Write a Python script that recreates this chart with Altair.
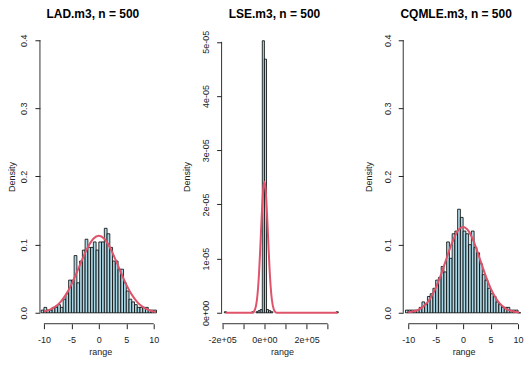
import altair as alt
import pandas as pd

FONT = "Liberation Sans"
BAR_FILL = "#ADD8E6"
CURVE_COLOR = "#DF536B"
W, H = 121, 295

# ---------------- LAD.m3 ----------------
lad_title = "LAD.m3, n = 500"
lad_bin_start = [-10.5 + 0.5 * i for i in range(42)]
lad_density = [0.004, 0.008, 0.004, 0.004, 0.008, 0.008, 0.012, 0.008, 0.02, 0.028,
               0.048, 0.048, 0.084, 0.044, 0.076, 0.092, 0.108, 0.096, 0.096, 0.104,
               0.092, 0.104, 0.104, 0.124, 0.116, 0.096, 0.076, 0.076, 0.064, 0.064,
               0.044, 0.032, 0.02, 0.016, 0.012, 0.008, 0.008, 0.008, 0.008, 0.004,
               0.004, 0.004]
lad_curve_x = [-10, -9, -8, -7, -6, -5, -4, -3, -2, -1, 0, 1, 2, 3, 4, 5, 6, 7, 8, 9, 10, 10.4]
lad_curve_y = [0.0020, 0.0044, 0.0087, 0.0158, 0.0267, 0.0414, 0.0595, 0.0787, 0.0962, 0.1086,
               0.113, 0.1086, 0.0962, 0.0787, 0.0595, 0.0414, 0.0267, 0.0158, 0.0087, 0.0044,
               0.0020, 0.0014]
lad_xticks = [-10, -5, 0, 5, 10]
lad_yticks = [0, 0.1, 0.2, 0.3, 0.4]

# ---------------- LSE.m3 ----------------
lse_title = "LSE.m3, n = 500"
lse_bin_start = [-190000, -60000, -40000, -30000, -20000, -10000, 0, 10000, 20000, 30000, 340000]
lse_density = [2e-7, 2e-7, 2e-7, 4e-7, 6e-7, 5.02e-5, 4.68e-5, 6e-7, 4e-7, 2e-7, 2e-7]
lse_curve_x = [-183000, -60000, -50000, -40000, -35000, -30000, -25000, -20000, -15000, -10000,
               -5000, 0, 5000, 10000, 15000, 20000, 25000, 30000, 35000, 40000, 50000, 60000, 345000]
lse_curve_y = [0, 0, 2.4e-7, 1.28e-6, 2.55e-6, 4.63e-6, 7.68e-6, 1.16e-5, 1.60e-5, 2.01e-5,
               2.31e-5, 2.42e-5, 2.31e-5, 2.01e-5, 1.60e-5, 1.16e-5, 7.68e-6, 4.63e-6, 2.55e-6,
               1.28e-6, 2.4e-7, 0, 0]
lse_xticks = [-200000, -100000, 0, 100000, 200000, 300000]
lse_xlabels = ["-2e+05", "", "0e+00", "", "2e+05", ""]
lse_yticks = [0, 1e-5, 2e-5, 3e-5, 4e-5, 5e-5]
lse_ylabels = ["0e+00", "1e-05", "2e-05", "3e-05", "4e-05", "5e-05"]

# ---------------- CQMLE.m3 ----------------
cq_title = "CQMLE.m3, n = 500"
cq_bin_start = [-10.5 + 0.5 * i for i in range(42)]
cq_density = [0.004, 0.004, 0.004, 0.004, 0.004, 0.008, 0.016, 0.012, 0.024, 0.028,
              0.036, 0.048, 0.052, 0.068, 0.06, 0.104, 0.08, 0.116, 0.12, 0.152,
              0.14, 0.12, 0.116, 0.1, 0.12, 0.096, 0.088, 0.072, 0.056, 0.048,
              0.036, 0.028, 0.024, 0.016, 0.012, 0.008, 0.008, 0.008, 0.004, 0.004,
              0.004, 0.0]
cq_curve_x = [-10, -9, -8, -7, -6, -5, -4, -3, -2, -1, 0, 1, 2, 3, 4, 5, 6, 7, 8, 9, 10, 10.2]
cq_curve_y = [0.0009, 0.0022, 0.0052, 0.011, 0.021, 0.0363, 0.0568, 0.0805, 0.1033, 0.1199,
              0.126, 0.1199, 0.1033, 0.0805, 0.0568, 0.0363, 0.021, 0.011, 0.0052, 0.0022,
              0.0009, 0.0007]
cq_xticks = [-10, -5, 0, 5, 10]
cq_yticks = [0, 0.1, 0.2, 0.3, 0.4]


def panel(title, bin_start, bin_w, density, cx, cy, xdomain, ydomain, xticks, yticks,
          xlabel_expr, ylabel_expr, ytitle_x):
    xaxis = alt.Axis(values=xticks, labelExpr=xlabel_expr, title="range", domain=False,
                     tickSize=5, tickColor="#222", tickWidth=1, labelPadding=14,
                     labelBaseline="alphabetic", labelFont=FONT, labelFontSize=9,
                     labelColor="#222", labelFlush=False, labelOverlap=False,
                     titleFont=FONT, titleFontSize=9, titleFontWeight="normal",
                     titleColor="#222", titleX=W / 2, titleY=31, titleAlign="center",
                     titleBaseline="alphabetic", grid=False)
    yaxis = alt.Axis(values=yticks, labelExpr=ylabel_expr, title="Density", domain=False,
                     tickSize=5, tickColor="#222", tickWidth=1, labelPadding=8,
                     labelAngle=270, labelAlign="center", labelBaseline="alphabetic",
                     labelFont=FONT, labelFontSize=9, labelColor="#222",
                     labelFlush=False, labelOverlap=False,
                     titleFont=FONT, titleFontSize=9, titleFontWeight="normal",
                     titleColor="#222", titleAngle=270, titleX=ytitle_x, titleY=H / 2,
                     titleAlign="center", titleBaseline="alphabetic", grid=False)
    xs = alt.Scale(domain=xdomain, nice=False, zero=False)
    ys = alt.Scale(domain=ydomain, nice=False, zero=False)

    bars_df = pd.DataFrame({"start": bin_start,
                            "end": [s + bin_w for s in bin_start],
                            "density": density})
    bars = alt.Chart(bars_df).mark_rect(fill=BAR_FILL, stroke="black", strokeWidth=0.8).encode(
        x=alt.X("start:Q", scale=xs, axis=xaxis),
        x2="end:Q",
        y=alt.Y("density:Q", scale=ys, axis=yaxis),
        y2=alt.datum(0),
    )
    curve_df = pd.DataFrame({"x": cx, "y": cy})
    curve = alt.Chart(curve_df).mark_line(color=CURVE_COLOR, strokeWidth=2,
                                          interpolate="monotone").encode(
        x=alt.X("x:Q", scale=xs, axis=xaxis),
        y=alt.Y("y:Q", scale=ys, axis=yaxis),
    )
    xline = alt.Chart(pd.DataFrame({"lo": [xticks[0]], "hi": [xticks[-1]]})).mark_rule(
        color="#333", strokeWidth=1).encode(
        x=alt.X("lo:Q", scale=xs, axis=xaxis), x2="hi:Q", y=alt.value(H))
    yline = alt.Chart(pd.DataFrame({"lo": [yticks[0]], "hi": [yticks[-1]]})).mark_rule(
        color="#333", strokeWidth=1).encode(
        y=alt.Y("lo:Q", scale=ys, axis=yaxis), y2="hi:Q", x=alt.value(0))
    return alt.layer(bars, curve, xline, yline).properties(
        width=W, height=H,
        title=alt.TitleParams(title, font=FONT, fontSize=12, fontWeight="bold",
                              color="black", anchor="middle", offset=-1, dx=-7.5,
                              baseline="alphabetic"),
    )


num_expr = "'' + datum.value"
p1 = panel(lad_title, lad_bin_start, 0.5, lad_density, lad_curve_x, lad_curve_y,
           [-10.73, 11.27], [-0.016, 0.416], lad_xticks, lad_yticks,
           num_expr, "format(datum.value, '.1f')", -25)
p2 = panel(lse_title, lse_bin_start, 10000, lse_density, lse_curve_x, lse_curve_y,
           [-203000, 369400], [-0.04 * 5.03e-5, 1.04 * 5.03e-5], lse_xticks, lse_yticks,
           "%s[indexof(%s, datum.value)]" % (lse_xlabels, lse_xticks),
           "%s[round(datum.value * 100000)]" % (lse_ylabels,), -32)
p3 = panel(cq_title, cq_bin_start, 0.5, cq_density, cq_curve_x, cq_curve_y,
           [-10.91, 11.09], [-0.016, 0.416], cq_xticks, cq_yticks,
           num_expr, "format(datum.value, '.1f')", -32)

chart = alt.hconcat(p1, p2, p3, spacing=61, bounds="flush").properties(
    padding=0, background="white"
).configure_view(stroke=None)

chart.save("out.html", embed_options={"renderer": "svg", "actions": False})
